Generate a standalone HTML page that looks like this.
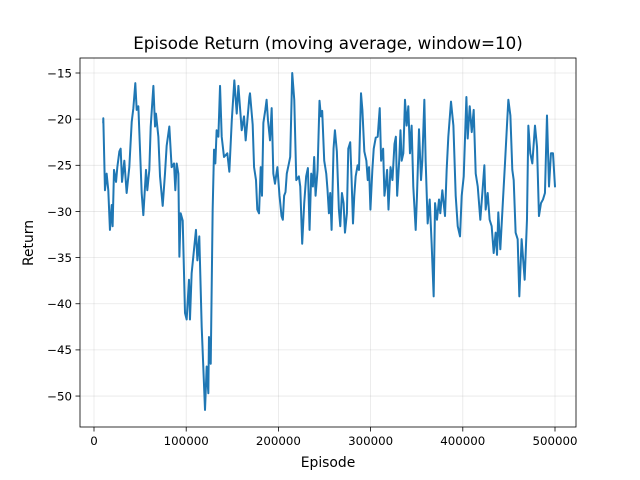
<!DOCTYPE html>
<html><head><meta charset="utf-8"><style>
body{margin:0;background:#fff;}
svg{display:block;font-family:"DejaVu Sans","Liberation Sans",sans-serif;}
</style></head><body>
<svg id="chart" width="640" height="480">
<rect width="640" height="480" fill="#fff"/>
<text x="328" y="49" text-anchor="middle" font-size="16.7">Episode Return (moving average, window=10)</text>
<text x="328" y="467" text-anchor="middle" font-size="13.9">Episode</text>
<text x="33" y="243" text-anchor="middle" font-size="13.9" transform="rotate(-90 33 243)">Return</text>
<g id="grid"></g><g id="ticks"></g><g id="series"></g>
<rect x="80" y="58" width="496" height="369" fill="none" stroke="#000" stroke-width="0.8"/>
</svg>
<script>
const episodesK = [10,10.1,11.9,13.7,15.5,17.3,19.2,20.2,21.7,23.9,25.3,27.5,28.9,30.4,32.9,35.4,38.3,40.9,42.7,44.8,46.3,48.1,51.7,53.5,56.4,57.8,60,61.5,64.4,66.2,67.2,69.8,71.6,74.5,77,78.8,81.7,84.2,86.8,88.2,89.7,91.5,92.6,94,96.2,98.7,100.5,103,104.1,105.9,107.7,110.6,112.1,114.2,116.8,120.4,122.2,124,124.7,126.6,128.7,130.2,131.6,133,134.9,136.7,138.5,141,144.6,146.8,149.4,152.2,154.8,156.6,160.2,162.7,164.5,168.5,169.2,172.1,173.6,175.7,177.1,179,180.8,182.2,183.7,185.8,187.2,188.7,190.9,192.7,194.5,196.3,198.9,201.2,203.4,204.8,206.2,207.7,209.1,211.4,212.8,215,217.2,219.4,222.2,223.7,225.8,228,230.1,232,233.8,235.6,237.4,238.8,240.3,242.5,244.6,246.1,247.5,249.7,251.9,253.3,254.8,256.2,257.7,259.8,261.3,263.4,265.6,267.1,268.9,270.7,272.2,274.3,275.8,277.9,279.4,280.9,282.3,283.8,285.9,287.4,289.6,291.1,293.2,295.4,296.9,298.3,299.8,301.9,303.4,305.6,307.7,309.9,311.4,313.6,315,316.5,317.9,319.4,321.6,323.7,325.9,327.4,328.8,331,332.4,333.7,335.5,337.3,339.1,340.9,342.7,344.5,346.3,348.9,350.3,352.5,354.7,356.1,358.3,359.7,361.9,364.1,366.2,368.4,369.9,372,374.2,375.6,377.8,380.7,382.5,384.3,387.2,389.8,392.3,394.5,397,398.8,401,403.9,405.3,407.5,409.7,411.8,414,416.2,419,421.2,423.4,424.8,427,429.1,431.3,433.5,435.6,437.1,438.5,440.7,443.6,445.8,447.9,449.4,451.6,453.7,455.2,457.3,459.5,461.3,463.8,467.1,469.6,471.1,473.2,475.4,478.3,480.5,482.6,484.8,487,489.1,491.3,493.5,495.6,497.8,500];
const returns = [-20.4,-19.9,-27.7,-25.9,-27.7,-32,-29.3,-31.6,-25.5,-26.8,-25.2,-23.5,-23.2,-26.8,-24.5,-28,-25.2,-20.3,-18.8,-16.1,-19,-18.6,-28,-30.4,-25.5,-27.7,-25.5,-20.8,-16.4,-20.8,-19.4,-21.9,-26.2,-29.4,-25.9,-22.9,-20.8,-25.2,-24.8,-27.7,-24.8,-25.9,-34.9,-30.2,-31,-41,-41.7,-37.4,-41.7,-36.7,-34.9,-32,-35.3,-32.7,-42.5,-51.5,-46.8,-49.7,-43.6,-46.5,-29.8,-23.3,-24.8,-21.2,-21.9,-16.4,-21.9,-24.1,-23.7,-25.7,-20.2,-15.8,-19.4,-16.4,-21.2,-19.7,-22.3,-17.6,-17.2,-20.6,-25.2,-26.6,-29.8,-30.2,-25.2,-28.3,-20.4,-19,-17.9,-20.1,-22.3,-18.8,-25.9,-27,-25.2,-28.3,-30.5,-30.9,-28.3,-27.9,-25.9,-24.8,-24.1,-15,-17.9,-26.6,-26.2,-27.3,-33.5,-29.1,-26.2,-25.3,-32,-25.9,-27.3,-24.1,-28.3,-25.5,-18,-19.7,-19.1,-24.5,-25.9,-27.7,-30.2,-28,-32,-23.2,-21.2,-23.5,-29.8,-31.6,-28,-29.1,-32.3,-30.2,-23.2,-22.5,-26.6,-31.3,-28.3,-26.2,-25,-25.5,-17.2,-19,-23.5,-24.5,-26.6,-25.2,-29.8,-25.5,-23.2,-22,-21.9,-18.8,-24.5,-23.2,-28.3,-27,-25.5,-29.8,-25.2,-26.6,-22.7,-21.9,-28.3,-24.5,-21.2,-24.5,-23.7,-17.9,-20.7,-18.6,-23.7,-20.7,-27.3,-32,-28.3,-21.1,-26.6,-24.5,-17.9,-24.5,-31.3,-28.7,-33.5,-39.2,-29.1,-30.9,-28.7,-30.2,-27.7,-30.5,-25.5,-21.9,-18.1,-20.7,-28.3,-31.6,-32.7,-28.3,-26.2,-17.6,-22.1,-18.6,-21.4,-19,-25.9,-27.3,-30.9,-28,-25,-29.8,-28,-30.9,-31.6,-34.5,-32.3,-34.7,-30.1,-34.1,-28.7,-24.7,-20.7,-17.9,-19.6,-25.5,-26.6,-32.3,-33,-39.2,-33,-37.4,-30.9,-20.7,-23.7,-24.8,-20.7,-23,-30.5,-29.1,-28.7,-28,-19.6,-27.3,-23.7,-23.7,-27.3];
const xTicks = [0,100000,200000,300000,400000,500000];
const yTicks = [-15,-20,-25,-30,-35,-40,-45,-50];
const xScale = ep => 94 + ep * 0.000922;
const yScale = v => 73 + (-15 - v) * 9.23;
const NS = 'http://www.w3.org/2000/svg';
const grid = document.getElementById('grid'), ticks = document.getElementById('ticks'), series = document.getElementById('series');
function mk(tag, attrs, parent){const e=document.createElementNS(NS,tag);for(const k in attrs)e.setAttribute(k,attrs[k]);parent.appendChild(e);return e;}
xTicks.forEach(t=>{
  const x=xScale(t);
  const g=mk('line',{x1:x,x2:x,y1:58,y2:427,stroke:'#b0b0b0','stroke-opacity':0.3,'stroke-width':0.8},grid);
  
  
  const tk=mk('line',{x1:x,x2:x,y1:427,y2:431.5,stroke:'#000','stroke-width':0.8},ticks);
  
  
  const lb=mk('text',{x:x,y:445,'text-anchor':'middle','font-size':11.8},ticks);
  lb.textContent=String(t);
  
  
});
yTicks.forEach(t=>{
  const y=yScale(t);
  const g=mk('line',{x1:80,x2:576,y1:y,y2:y,stroke:'#b0b0b0','stroke-opacity':0.3,'stroke-width':0.8},grid);
  
  
  const tk=mk('line',{x1:75.5,x2:80,y1:y,y2:y,stroke:'#000','stroke-width':0.8},ticks);
  
  
  const lb=mk('text',{x:72,y:y+4.3,'text-anchor':'end','font-size':11.8},ticks);
  lb.textContent='\u2212'+Math.abs(t);
  
  
});
const d=episodesK.map((e,i)=>(i?'L':'M')+xScale(e*1000).toFixed(2)+' '+yScale(returns[i]).toFixed(2)).join(' ');
const line=mk('path',{d:d,fill:'none',stroke:'#1f77b4','stroke-width':2,'stroke-linejoin':'round','stroke-linecap':'round'},series);


</script>
</body></html>
